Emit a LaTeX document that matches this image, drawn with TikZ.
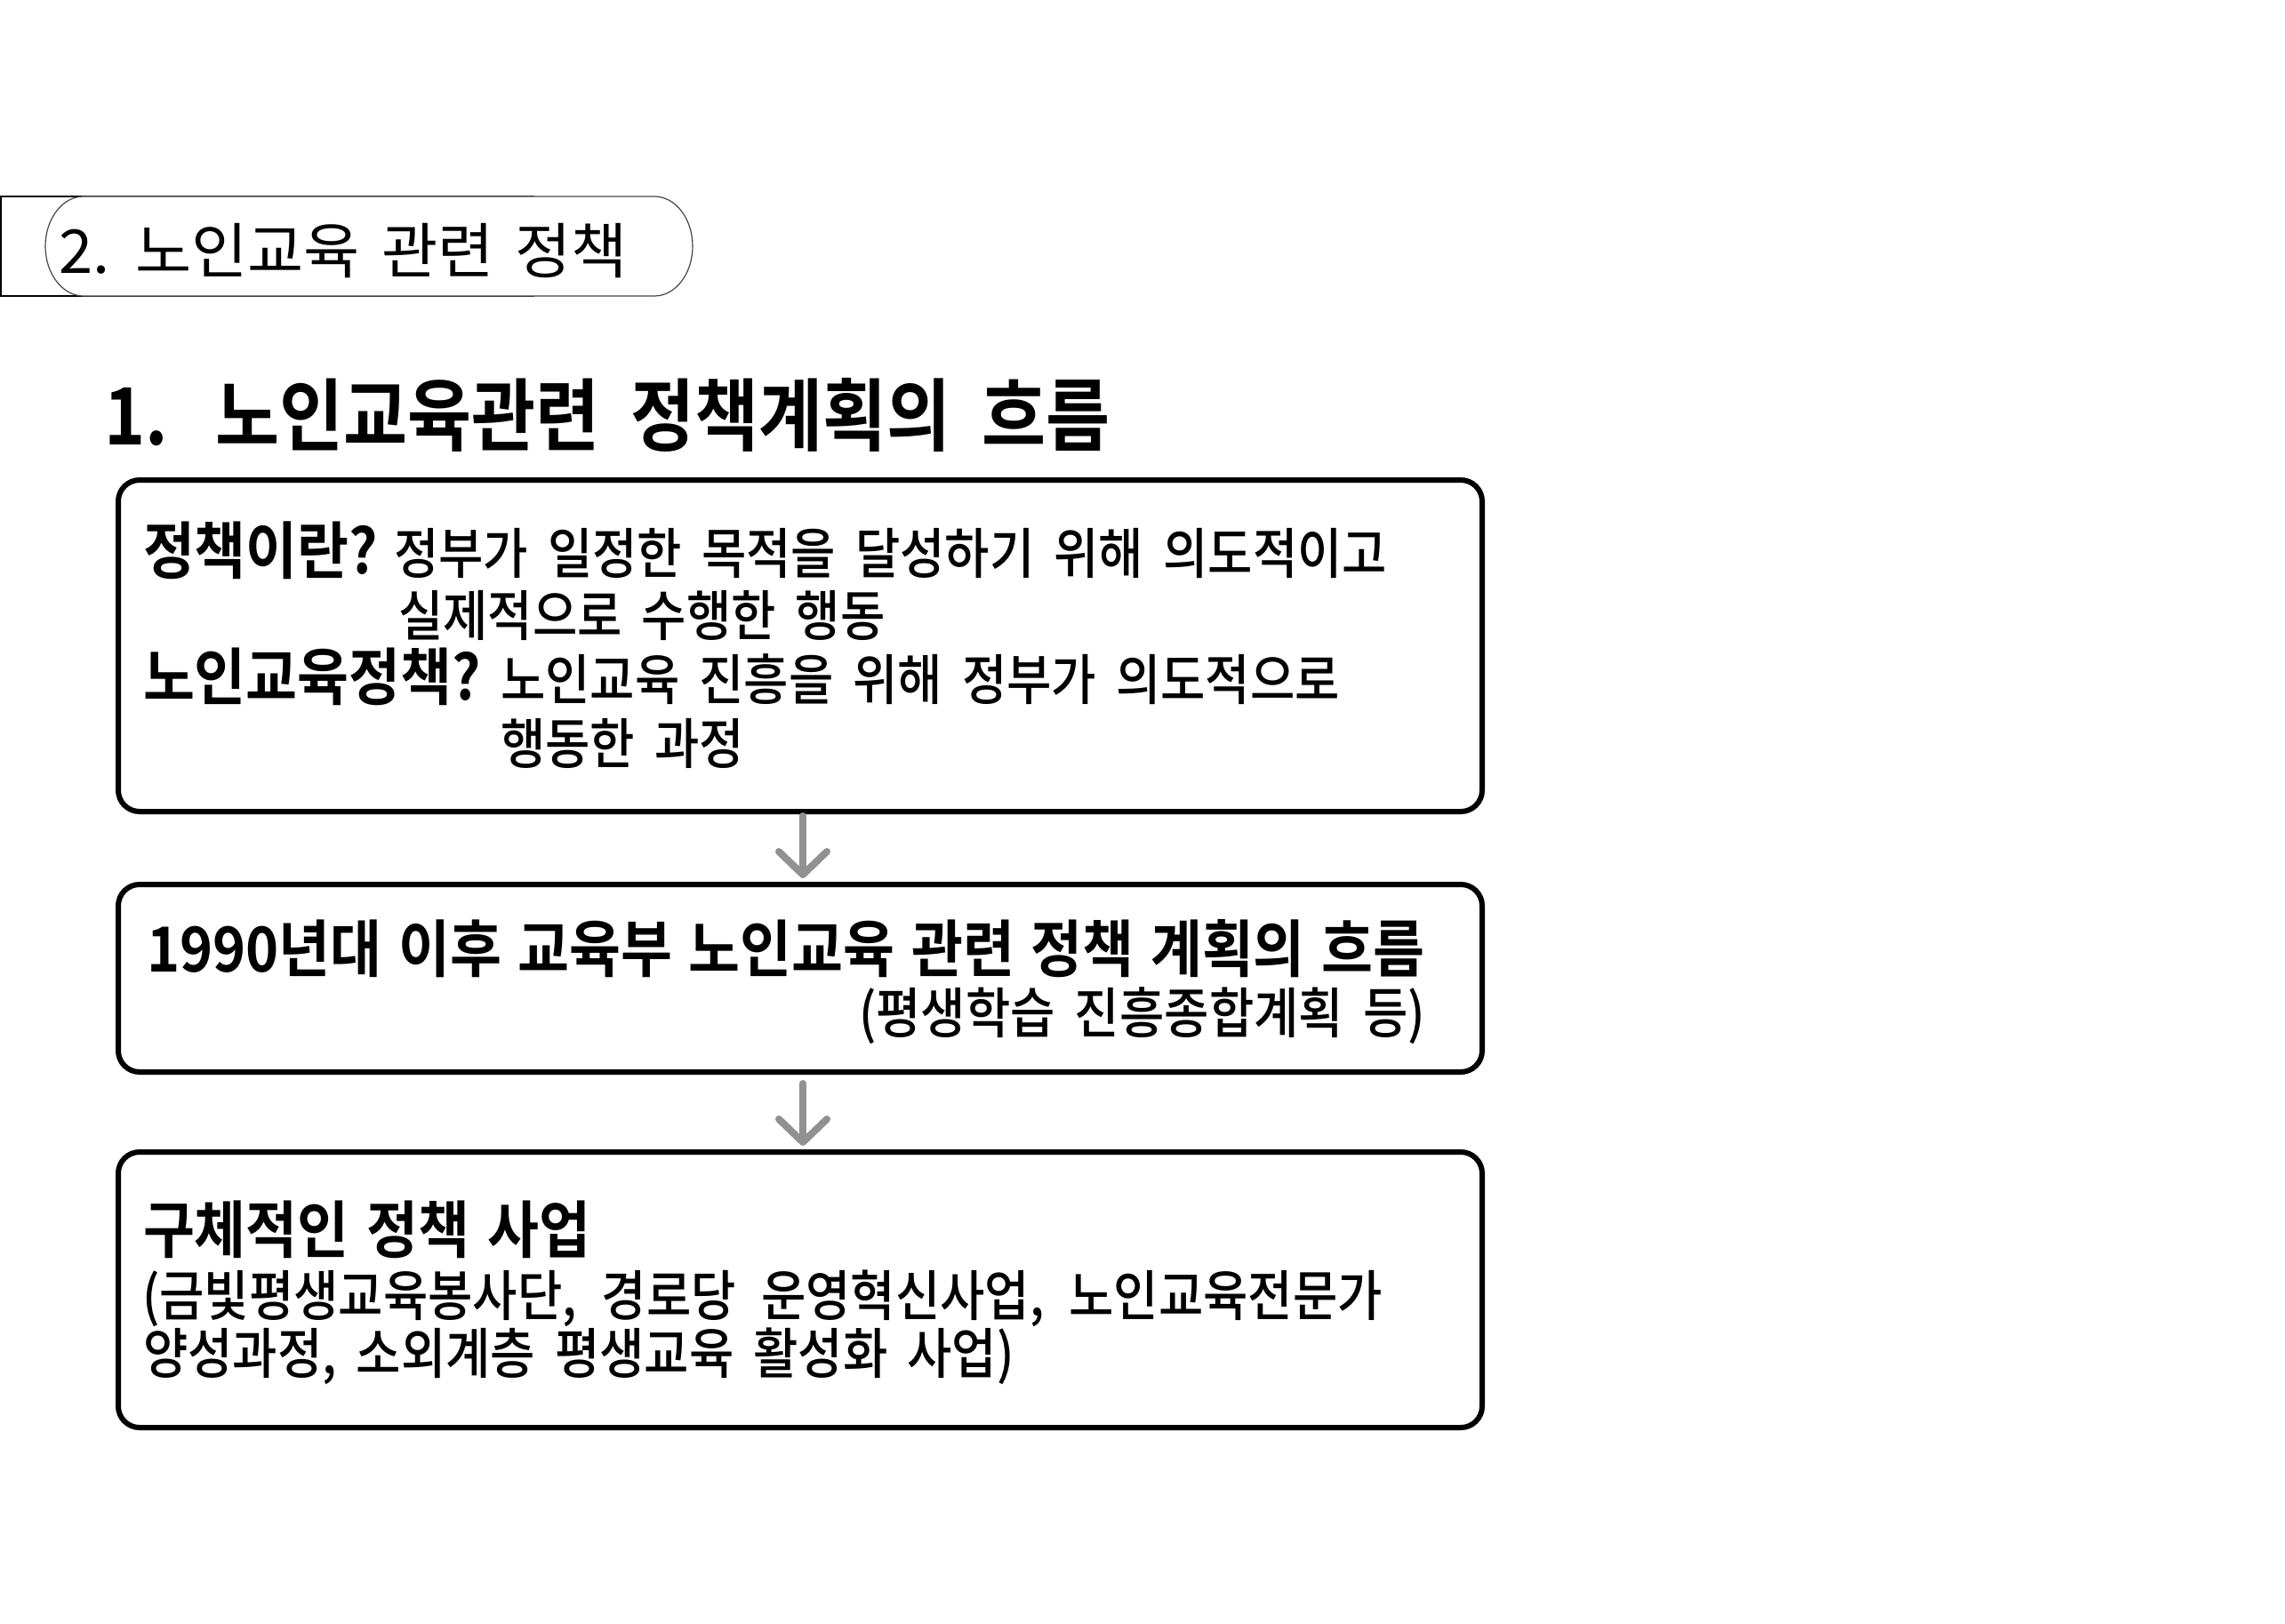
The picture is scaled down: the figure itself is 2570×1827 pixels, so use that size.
\documentclass[tikz,border=0pt]{standalone}
\usepackage{fontspec}
\newfontfamily\hdrfont[FakeStretch=1.01]{Noto Sans CJK KR}
\newfontfamily\ttlfont[FakeStretch=0.88]{Noto Sans CJK KR Bold}
\newfontfamily\bxrfont[FakeStretch=0.89]{Noto Sans CJK KR Medium}
\newfontfamily\bxbfont[FakeStretch=0.90]{Noto Sans CJK KR Bold}
\newcommand\spc[1]{\spaceskip=#1\relax}
\newcommand\hdrsetup{\hdrfont\fontsize{68}{68}\selectfont\spc{24pt}}
\newcommand\ttlsetup{\ttlfont\fontsize{89}{89}\selectfont\spc{35pt}}
\newcommand\regsetup{\bxrfont\fontsize{61.5}{61.5}\selectfont\spc{22pt}}
\newcommand\boldsetup{\bxbfont\fontsize{70}{70}\selectfont\spc{20pt}}
\usetikzlibrary{arrows.meta}
\definecolor{arrowgray}{RGB}{145,145,145}
\definecolor{pillline}{RGB}{70,70,70}
\tikzset{
  txt/.style={anchor=base west, inner sep=0pt, outer sep=0pt, text=black},
  hdrtxt/.style={txt, font=\hdrsetup},
  ttltxt/.style={txt, font=\ttlsetup},
  regtxt/.style={txt, font=\regsetup},
  boldtxt/.style={txt, font=\boldsetup},
  flowbox/.style={draw=black, line width=6pt, rounded corners=24pt, inner sep=0pt, outer sep=0pt, minimum width=1534pt},
  flowarrow/.style={draw=arrowgray, line width=8pt, line cap=round, -{Straight Barb[length=26pt,width=54pt,round]}},
}
\begin{document}
\begin{tikzpicture}[x=1pt,y=-1pt]
\useasboundingbox (0,0) rectangle (2570,1827);
\fill[white] (0,0) rectangle (2570,1827);

% header tab
\draw[black, line width=1.5pt] (1,221) rectangle (600,333);
\path[draw=pillline, line width=1.2pt, fill=white]
  (94,221) -- (736,221)
  arc[start angle=90, end angle=-90, x radius=43pt, y radius=56pt]
  -- (94,333)
  arc[start angle=270, end angle=90, x radius=43pt, y radius=56pt]
  -- cycle;
\node[hdrtxt] (hdr) at (66,308) {2. 노인교육 관련 정책};

% title
\node[ttltxt] (tnum) at (117,500) {1.};
\node[ttltxt] (ttl) at (242,500) {노인교육관련 정책계획의 흐름};

% boxes
\node[flowbox, minimum height=373pt] (b1) at (900,726.5) {};
\node[flowbox, minimum height=211pt] (b2) at (900,1100.5) {};
\node[flowbox, minimum height=310pt] (b3) at (900,1451) {};

% box 1 text
\node[boldtxt] (q1) at (161,645) {정책이란?};
\node[regtxt] (a1) at (443,645) {정부가 일정한 목적을 달성하기 위해 의도적이고};
\node[regtxt] (a1b) at (448,715) {실제적으로 수행한 행동};
\node[boldtxt] (q2) at (161,787) {노인교육정책?};
\node[regtxt] (a2) at (563,787) {노인교육 진흥을 위해 정부가 의도적으로};
\node[regtxt] (a2b) at (563,859) {행동한 과정};

% box 2 text
\node[boldtxt, font={\boldsetup\spc{18.5pt}}] (p1) at (165,1093) {1990년대 이후 교육부 노인교육 관련 정책 계획의 흐름};
\node[regtxt, anchor=base east] (p2) at (1603,1162) {(평생학습 진흥종합계획 등)};

% box 3 text
\node[boldtxt] (s1) at (161,1409) {구체적인 정책 사업};
\node[regtxt, font={\regsetup\spc{28pt}}] (s2) at (160,1480) {(금빛평생교육봉사단, 경로당 운영혁신사업, 노인교육전문가};
\node[regtxt] (s3) at (161,1545) {양성과정, 소외계층 평생교육 활성화 사업)};

% arrows
\draw[flowarrow] ([xshift=3pt,yshift=-5pt]b1.south) -- ([xshift=3pt,yshift=7pt]b2.north);
\draw[flowarrow] ([xshift=3pt,yshift=-13pt]b2.south) -- ([xshift=3pt,yshift=7pt]b3.north);
\end{tikzpicture}
\end{document}
